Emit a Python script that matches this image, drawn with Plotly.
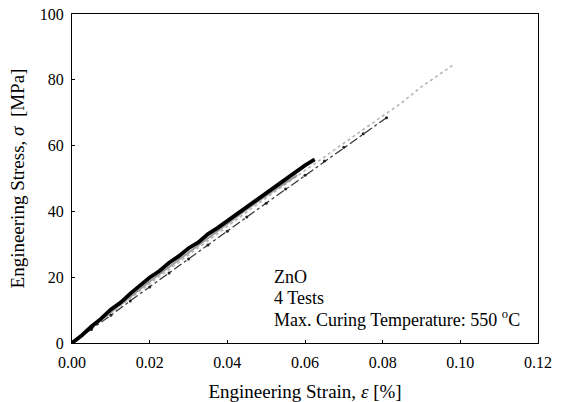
import plotly.graph_objects as go

# Test A (black, thick)
strain_a = [0, 0.0025, 0.005, 0.0075, 0.01, 0.0125, 0.015, 0.0175, 0.02, 0.0225, 0.025, 0.0275, 0.03,
            0.0325, 0.035, 0.0375, 0.04, 0.0425, 0.045, 0.0475, 0.05, 0.0525, 0.055, 0.0575, 0.06, 0.0625]
stress_a = [0, 2.3, 5.0, 7.4, 10.2, 12.3, 15.0, 17.4, 19.9, 21.9, 24.4, 26.4, 28.8,
            30.6, 33.1, 35.0, 37.1, 39.3, 41.4, 43.5, 45.6, 47.9, 49.7, 51.9, 54.0, 55.8]

# Test B (light gray dotted, longest)
strain_b = [0, 0.005, 0.01, 0.015, 0.02, 0.025, 0.03, 0.035, 0.04, 0.045, 0.05, 0.055, 0.06,
            0.065, 0.07, 0.075, 0.08, 0.085, 0.09, 0.095, 0.0985]
stress_b = [0, 4.6, 9.2, 13.6, 18.0, 22.4, 26.8, 31.2, 35.5, 39.8, 44.1, 48.3, 52.5,
            56.7, 60.8, 64.9, 69.0, 73.1, 77.9, 82.0, 84.8]

# Test C (dark dash-dot with markers)
strain_c = [0, 0.005, 0.01, 0.015, 0.02, 0.025, 0.03, 0.035, 0.04, 0.045, 0.05, 0.055, 0.06,
            0.065, 0.07, 0.075, 0.081]
stress_c = [0, 4.1, 8.4, 12.8, 17.0, 21.3, 25.5, 29.8, 34.0, 38.3, 42.5, 46.8, 51.0,
            55.3, 59.5, 63.6, 68.5]

# Test D (medium gray)
strain_d = [0, 0.005, 0.01, 0.015, 0.02, 0.025, 0.03, 0.035, 0.04, 0.045, 0.05, 0.055, 0.058]
stress_d = [0, 4.7, 9.5, 14.2, 18.7, 23.1, 27.5, 31.9, 36.3, 40.6, 44.8, 48.8, 51.0]

x_ticks = [0.00, 0.02, 0.04, 0.06, 0.08, 0.10, 0.12]
x_tick_labels = ["0.00", "0.02", "0.04", "0.06", "0.08", "0.10", "0.12"]
y_ticks = [0, 20, 40, 60, 80, 100]

note_lines = ["ZnO", "4 Tests", "Max. Curing Temperature: 550 <sup>o</sup>C"]

FONT = "Liberation Serif, Times New Roman, serif"

fig = go.Figure()
fig.add_trace(go.Scatter(x=strain_b, y=stress_b, mode="lines",
                         line=dict(color="#b4b4b4", width=1.6, dash="dot"), showlegend=False))
fig.add_trace(go.Scatter(x=strain_d, y=stress_d, mode="lines",
                         line=dict(color="#9a9a9a", width=2), showlegend=False))
fig.add_trace(go.Scatter(x=strain_c, y=stress_c, mode="lines+markers",
                         line=dict(color="#333333", width=1.2, dash="dashdot"),
                         marker=dict(size=3, color="#222222"), showlegend=False))
fig.add_trace(go.Scatter(x=strain_a, y=stress_a, mode="lines",
                         line=dict(color="#000000", width=3.8), showlegend=False))

# annotation line centres in pixels (plot area spans y=14..343 px)
note_px = [277, 297.5, 318.5]
for line, py in zip(note_lines, note_px):
    fig.add_annotation(x=0.0515, y=(343 - py) / 329.0, xref="x", yref="paper",
                       xanchor="left", yanchor="middle", showarrow=False,
                       text=line, font=dict(family=FONT, size=18, color="black"))

fig.update_layout(
    width=562, height=402,
    margin=dict(l=72, r=24, t=14, b=59),
    paper_bgcolor="white", plot_bgcolor="white",
    font=dict(family=FONT, size=16, color="black"),
)
fig.update_xaxes(range=[0, 0.12], tickvals=x_ticks, ticktext=x_tick_labels, automargin=False,
                 ticks="inside", ticklen=3, tickcolor="black", ticklabelstandoff=5,
                 showline=True, linecolor="black", linewidth=1.2, mirror=True,
                 showgrid=False, zeroline=False,
                 title=dict(text="Engineering Strain, <i>ε</i> [%]", font=dict(family=FONT, size=19),
                            standoff=14))
fig.update_yaxes(range=[0, 100], tickvals=y_ticks, automargin=False,
                 ticks="inside", ticklen=3, tickcolor="black", ticklabelstandoff=4,
                 showline=True, linecolor="black", linewidth=1.2, mirror=True,
                 showgrid=False, zeroline=False,
                 title=dict(text="Engineering Stress, <i>σ</i>  [MPa]", font=dict(family=FONT, size=19),
                            standoff=10))

fig.write_html("out.html", config={"displayModeBar": False},
               post_script="document.body.style.margin='0';document.body.style.overflow='hidden';")
